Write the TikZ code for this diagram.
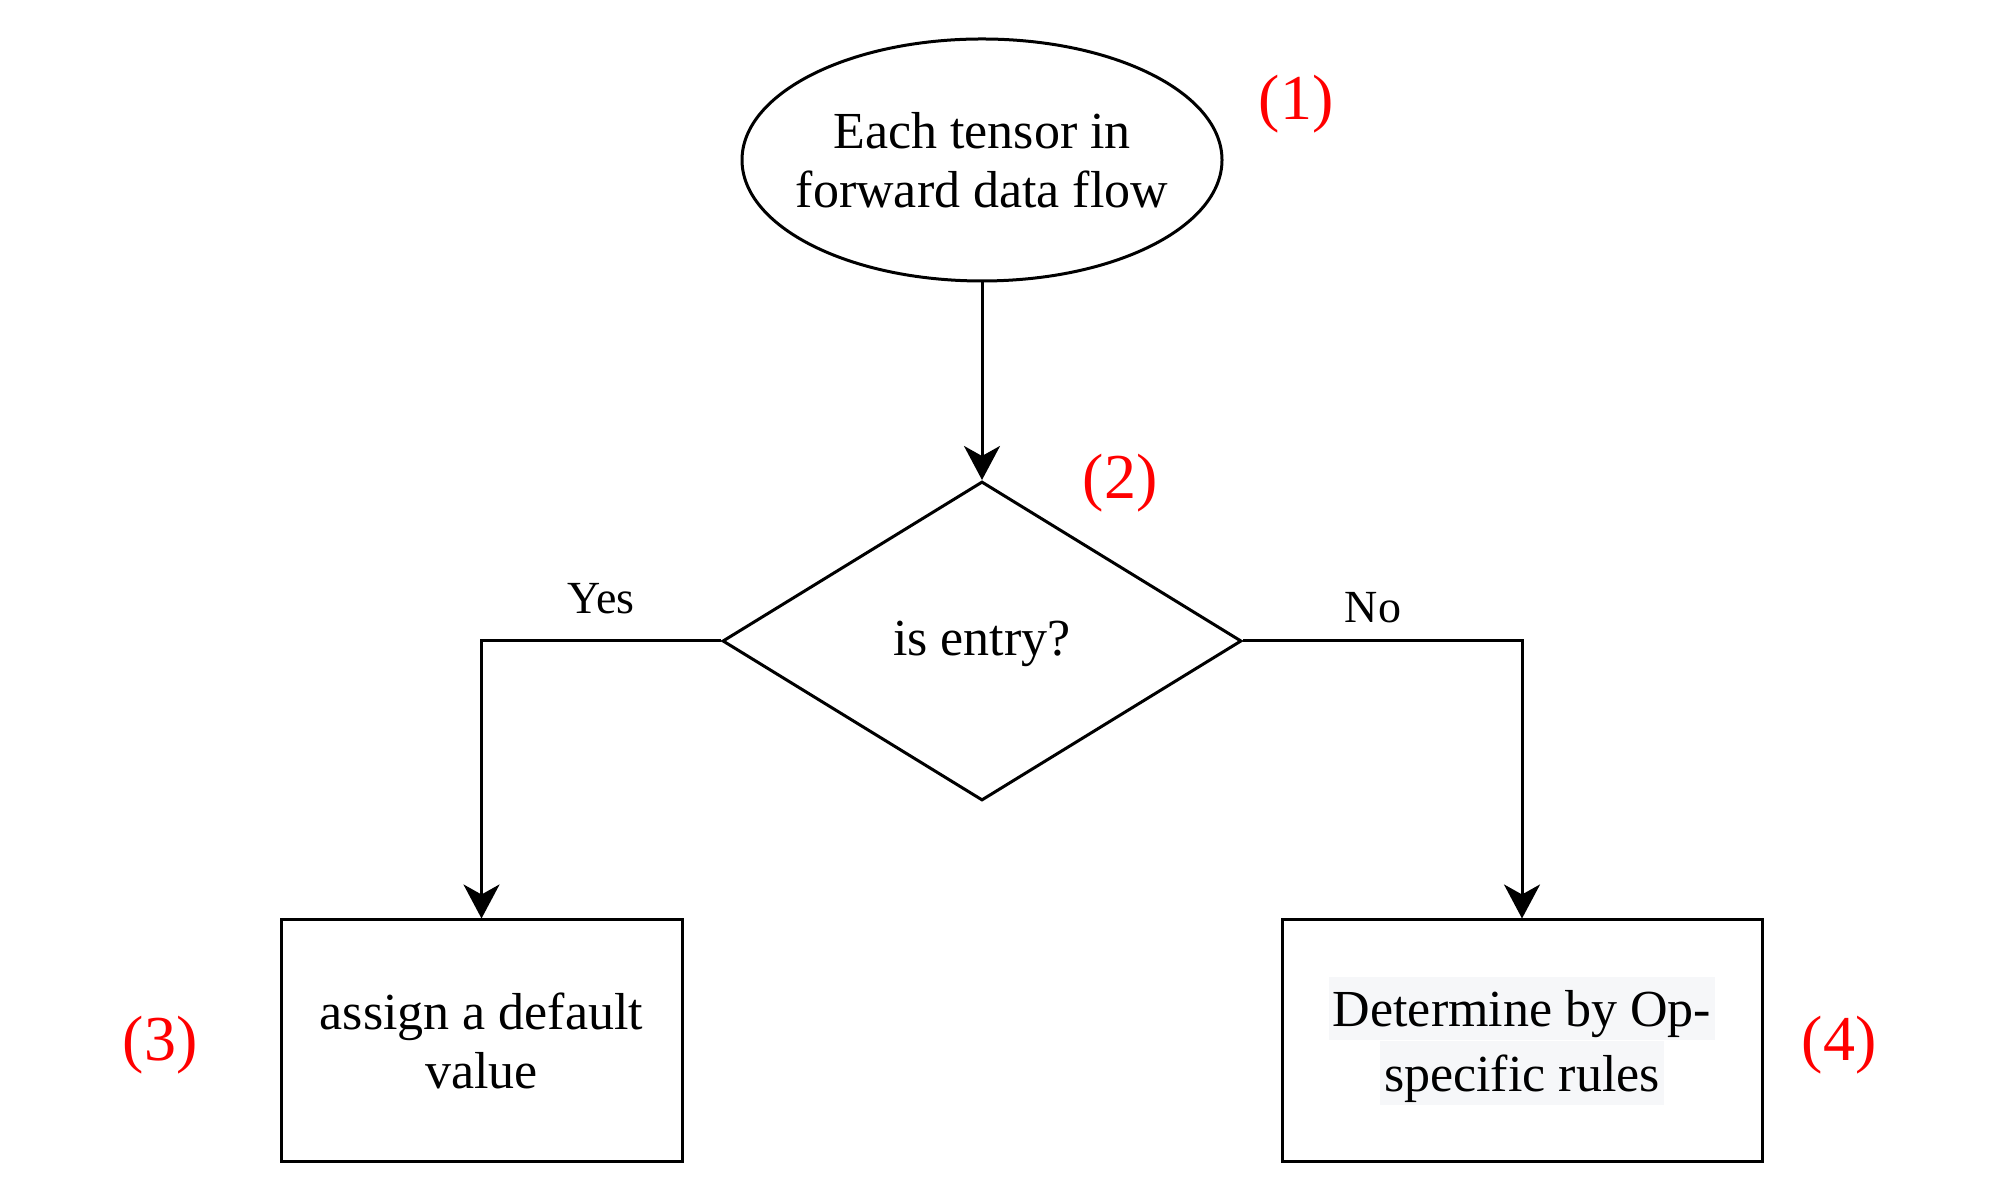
\documentclass[tikz,border=0pt]{standalone}
\usepackage{fontspec}
\setmainfont{Liberation Serif}
\usetikzlibrary{shapes.geometric,arrows.meta}
\definecolor{hlgray}{HTML}{F6F7F9}
\definecolor{lblred}{HTML}{FF0000}
\newcommand\hlline[1]{{\setlength\fboxsep{0pt}\colorbox{hlgray}{\kern4pt\rule[-0.27em]{0pt}{1.23em}#1\kern4pt}}}
\begin{document}
\begin{tikzpicture}[x=1pt,y=1pt,
  txt/.style={font=\fontsize{52}{59}\selectfont, align=center},
  main/.style={txt, line width=3pt, draw=black},
  flowbox/.style={main, rectangle, inner sep=0pt},
  lbl/.style={font=\fontsize{64}{70}\selectfont, text=lblred},
  yn/.style={font=\fontsize{46}{52}\selectfont},
  conn/.style={line width=3pt, -{Stealth[length=34pt,width=36pt,inset=10pt]}}
]
\useasboundingbox (0,0) rectangle (2004,1204);
\node[main, ellipse, minimum width=480pt, minimum height=242pt, inner sep=0pt] (start) at (982,1044) {};
\node[txt] (starttext) at (start.center) {Each tensor in\\forward data flow};
\node[main, diamond, minimum width=519pt, minimum height=319pt, inner sep=0pt] (dec) at (982,563) {};
\node[txt] (dectext) at ([yshift=-3pt]dec.center) {is entry?};
\node[flowbox, minimum width=401pt, minimum height=242pt] (yesbox) at (481.5,163) {assign a default\\value};
\node[flowbox, minimum width=480pt, minimum height=242pt] (nobox) at (1522,163) {\hlline{Determine by Op-}\\\hlline{specific rules}};
\node[lbl] (l1) at (1296,1100) {(1)};
\node[lbl] (l2) at (1120,721) {(2)};
\node[lbl] (l3) at (160,159) {(3)};
\node[lbl] (l4) at (1839,159) {(4)};
\node[yn] (yes) at (601,605) {Yes};
\node[yn] (no) at (1373,596) {No};
\draw[conn] (start.south) -- (dec.north);
\draw[conn] (dec.west) -| (yesbox.north);
\draw[conn] (dec.east) -| (nobox.north);
\end{tikzpicture}
\end{document}
